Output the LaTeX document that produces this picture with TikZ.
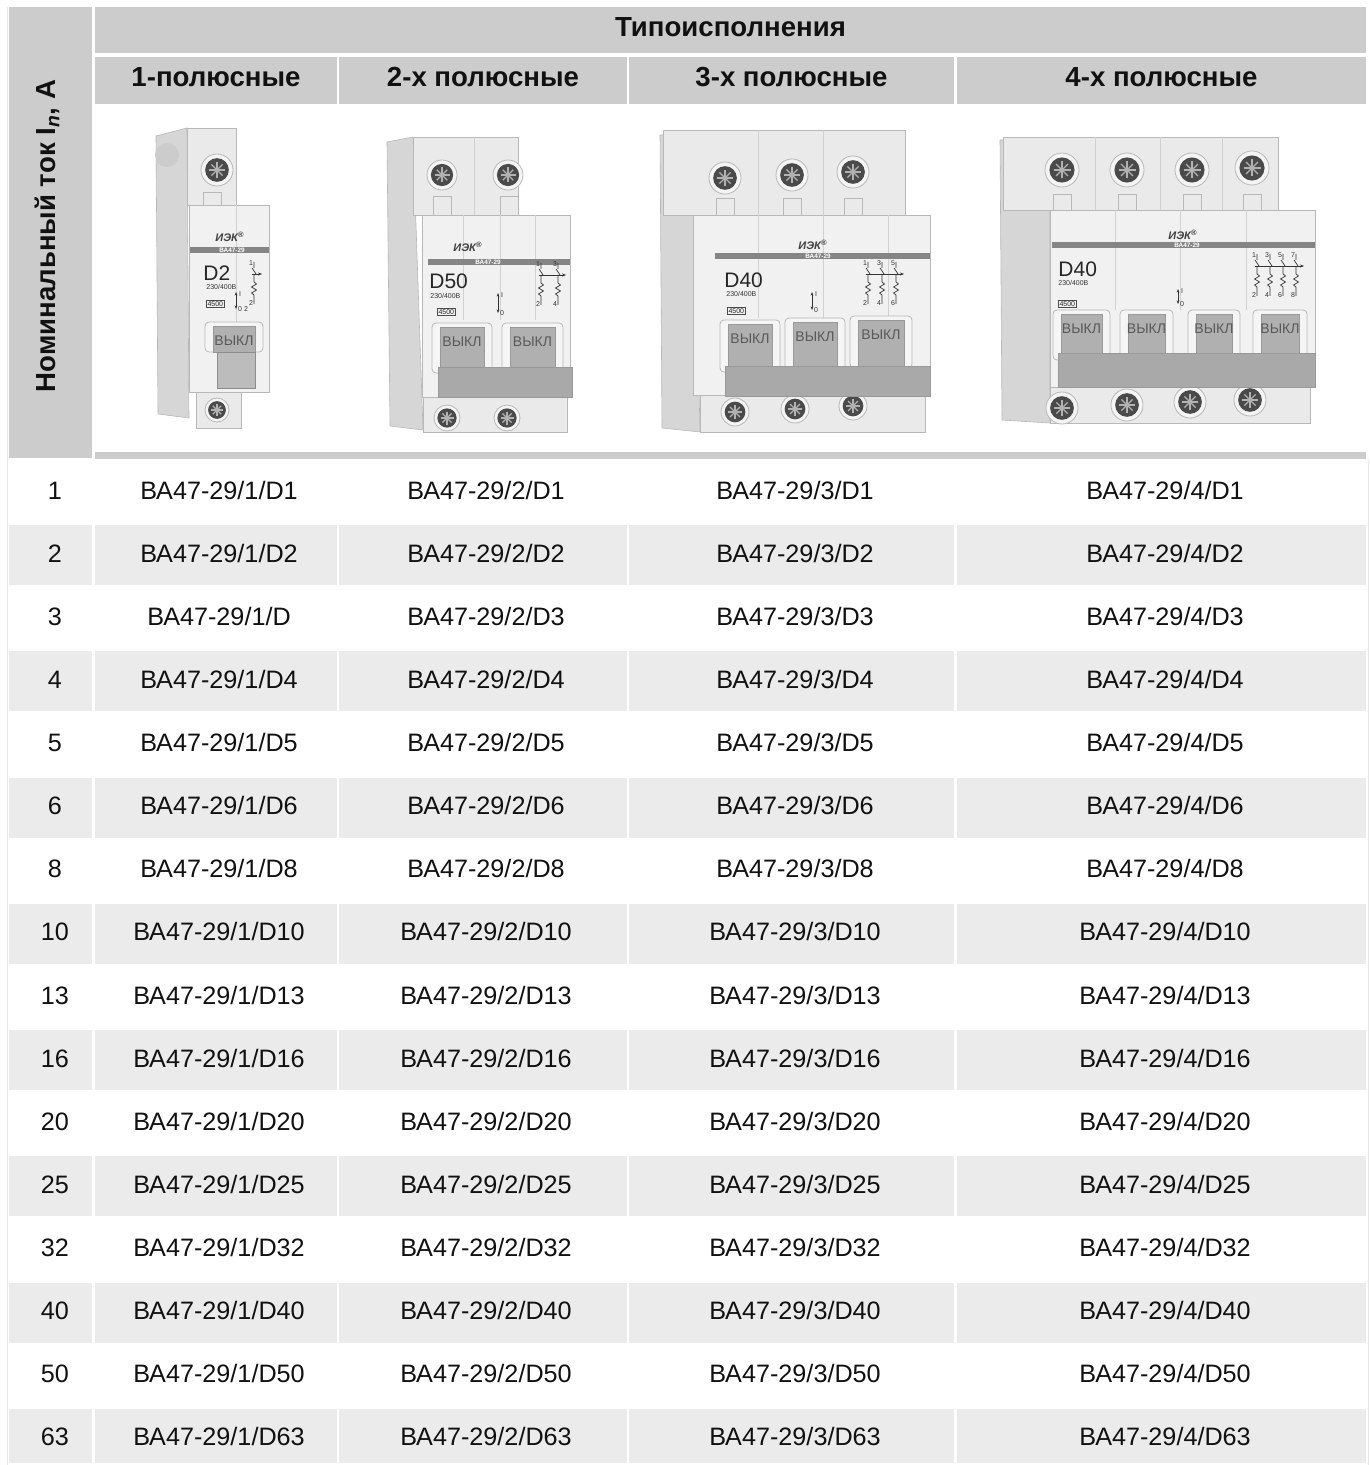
\documentclass[tikz,border=0pt]{standalone}
\usepackage{fontspec}
\setmainfont{Liberation Sans}
\usetikzlibrary{arrows.meta}
\definecolor{hdr}{HTML}{CCCCCC}
\definecolor{shd}{HTML}{EBEBEB}
\definecolor{txt}{HTML}{111111}
\definecolor{bfront}{HTML}{F1F1F1}
\definecolor{bupper}{HTML}{EAEAEA}
\definecolor{bside}{HTML}{D6D6D6}
\definecolor{bedge}{HTML}{B8B8B8}
\definecolor{bstripe}{HTML}{858585}
\definecolor{btog}{HTML}{B0B0B0}
\definecolor{bbar}{HTML}{A9A9A9}
\definecolor{scrd}{HTML}{4A4A4A}
\definecolor{scrring}{HTML}{F4F4F4}
\newcommand\fs[1]{\fontsize{#1}{#1}\selectfont}
\tikzset{
  cellt/.style={font=\fs{12.6}, text=txt, anchor=base, inner sep=0pt},
  hdrt/.style={font=\fs{13.8}\bfseries, text=txt, anchor=base, inner sep=0pt},
  frontbox/.style={fill=bfront, draw=bedge, line width=0.4pt},
  upperbox/.style={fill=bupper, draw=bedge, line width=0.4pt},
  sidebox/.style={fill=bside, draw=bedge, line width=0.3pt},
  seam/.style={draw=black!18, line width=0.4pt},
  logot/.style={font=\fs{5.5}\bfseries\itshape, text=black!75, inner sep=0pt},
  stript/.style={font=\fs{3.2}\bfseries, text=white, inner sep=0pt},
  ratet/.style={font=\fs{3.5}, text=black!80, inner sep=0pt, anchor=base west},
  dt/.style={font=\fs{10.5}, text=black!85, inner sep=0pt, anchor=base west},
  boxt/.style={font=\fs{3.5}, text=black!85, draw=black!70, line width=0.3pt, inner sep=0.6pt, anchor=west},
  tinyt/.style={font=\fs{3.5}, text=black!80, inner sep=0pt},
  barbox/.style={fill=bbar, draw=black!40, line width=0.4pt}
}
\newcommand\mcbscrew[3]{%
\begin{scope}[shift={(#1,#2)}]
\filldraw[fill=scrring, draw=bedge, line width=0.4pt] (0,0) circle[radius=#3*0.5pt];
\fill[scrd] (0,0) circle[radius=#3*0.37pt];
\draw[black!30, line width=0.9pt] (-#3*0.5,0) -- (#3*0.5,0) (0,-#3*0.5) -- (0,#3*0.5);
\draw[black!30, line width=0.6pt] (-#3*0.35,-#3*0.35) -- (#3*0.35,#3*0.35) (-#3*0.35,#3*0.35) -- (#3*0.35,-#3*0.35);
\end{scope}}
\newcommand\mcbtoggle[4]{%
\filldraw[fill=white!96!black, draw=bedge, line width=0.4pt, rounded corners=2pt] (#1,#2) rectangle (#3,#4);
\filldraw[fill=btog, draw=black!40, line width=0.3pt] ({#1+8},{#2+4}) rectangle ({#3-8},#4);
\node[font=\fs{7}, text=black!65, inner sep=0pt] at ({(#1+#3)/2},{#2+19}) {ВЫКЛ};}
\newcommand\mcbschem[4]{%
\foreach \k in {1,...,#3}{%
 \pgfmathsetmacro\sx{#1+(\k-1)*#4}
 \pgfmathtruncatemacro\ta{2*\k-1}
 \pgfmathtruncatemacro\tb{2*\k}
 \draw[black!80, line width=0.35pt] (\sx,#2) -- (\sx,{#2+6}) ({\sx-2},{#2+6}) -- ({\sx+2},{#2+12}) (\sx,{#2+13}) -- (\sx,{#2+20}) -- ({\sx+2.5},{#2+22}) -- ({\sx-2.5},{#2+25}) -- ({\sx+2.5},{#2+28}) -- ({\sx-2.5},{#2+31}) -- (\sx,{#2+33}) -- (\sx,{#2+42});
 \node[tinyt] at ({\sx-3},{#2+1}) {\ta};
 \node[tinyt] at ({\sx-3},{#2+41}) {\tb};
}
\draw[black!80, line width=0.3pt, -{Stealth[length=2pt]}] ({#1-2},{#2+12}) -- ({#1+(#3-1)*#4+8},{#2+12});}
\newcommand\mcbarrows[3]{% x ytop ybot
\draw[black!80, line width=0.35pt, {Stealth[length=1.8pt]}-{Stealth[length=1.8pt]}] (#1,#2) -- (#1,#3);
\node[tinyt] at ({#1+4},{#2+2}) {I};
\node[tinyt] at ({#1+4},{#3}) {0};}
\begin{document}
\begin{tikzpicture}[x=0.5pt,y=-0.5pt]
\useasboundingbox (0,0) rectangle (1369,1465);
\fill[white] (0,0) rectangle (1369,1465);
% faint outer edges
\draw[black!9, line width=0.5pt] (7,7) -- (7,1465);
\draw[black!9, line width=0.5pt] (1368,460) -- (1368,1465);
% header
\fill[hdr] (9,7) rectangle (92,458);
\fill[hdr] (95,7) rectangle (1366,53);
\fill[hdr] (95,57) rectangle (337,104);
\fill[hdr] (339,57) rectangle (627,104);
\fill[hdr] (629,57) rectangle (954,104);
\fill[hdr] (957,57) rectangle (1366,104);
\fill[hdr] (95,452) rectangle (1366,459);
\node[hdrt, rotate=90] (lbl) at (55,236) {Номинальный ток I\textsubscript{\itshape n}, A};
\node[hdrt] (top) at (730.5,37) {Типоисполнения};
\node[hdrt] (h1) at (216,87) {1-полюсные};
\node[hdrt] (h2) at (483,87) {2-х полюсные};
\node[hdrt] (h3) at (791.5,87) {3-х полюсные};
\node[hdrt] (h4) at (1161.5,87) {4-х полюсные};
% rows
\foreach \v [count=\n from 0] in {1,2,3,4,5,6,8,10,13,16,20,25,32,40,50,63}{
  \pgfmathsetmacro\tp{462+\n*63.13}
  \pgfmathsetmacro\bt{min(\tp+60,1463)}
  \ifodd\n
    \fill[shd] (9,\tp) rectangle (92,\bt);
    \fill[shd] (95,\tp) rectangle (337,\bt);
    \fill[shd] (339,\tp) rectangle (627,\bt);
    \fill[shd] (629,\tp) rectangle (954,\bt);
    \fill[shd] (957,\tp) rectangle (1366,\bt);
  \fi
  \node[cellt] (r\n-c0) at (55,\tp+37) {\v};
  \ifnum\v=3
    \node[cellt] (r\n-c1) at (219,\tp+37) {ВА47-29/1/D};
  \else
    \node[cellt] (r\n-c1) at (219,\tp+37) {ВА47-29/1/D\v};
  \fi
  \node[cellt] (r\n-c2) at (486,\tp+37) {ВА47-29/2/D\v};
  \node[cellt] (r\n-c3) at (795,\tp+37) {ВА47-29/3/D\v};
  \node[cellt] (r\n-c4) at (1165,\tp+37) {ВА47-29/4/D\v};
}
% ---------- 1-pole breaker ----------
\filldraw[sidebox] (156,136) -- (187,128) -- (189,418) -- (158,414) -- cycle;
\fill[black!20] (167,155) circle[radius=6pt];
\filldraw[upperbox] (187,128) rectangle (236,205);
\mcbscrew{217}{170}{16}
\filldraw[upperbox] (203,192) rectangle (221,205);
\filldraw[upperbox] (196,392) rectangle (241,428);
\mcbscrew{217}{410}{12}
\filldraw[frontbox] (189,205) rectangle (269,392);
\draw[seam] (236,205) -- (236,322);
\node[logot] at (230,237) {ИЭК\textsuperscript{®}};
\fill[bstripe] (190,247) rectangle (269,253);
\node[stript] at (232,250) {ВА47-29};
\node[dt] at (203,281) {D2};
\node[ratet] at (206,290) {230/400В};
\node[boxt] at (206,304) {4500};
\mcbarrows{236}{292}{309}
\node[tinyt] at (246,309) {2};
\mcbschem{254}{262}{1}{0}
\mcbtoggle{205}{322}{263}{352}
\filldraw[fill=btog!85, draw=black!45, line width=0.4pt] (217,352) rectangle (255,388);
% ---------- 2-pole breaker ----------
\filldraw[sidebox] (387,142) -- (413,137) -- (423,430) -- (390,426) -- cycle;
\filldraw[upperbox] (413,137) rectangle (518,215);
\draw[seam] (474,137) -- (474,215);
\mcbscrew{442}{175}{15}
\mcbscrew{508}{175}{15}
\filldraw[upperbox] (433,196) rectangle (451,215);
\filldraw[upperbox] (500,196) rectangle (518,215);
\filldraw[upperbox] (423,397) rectangle (567,432);
\mcbscrew{447}{418}{13}
\mcbscrew{507}{418}{13}
\filldraw[frontbox] (422,215) rectangle (570,397);
\draw[seam] (463,215) -- (463,320) (500,215) -- (500,320) (535,215) -- (535,320);
\node[logot] at (468,247) {ИЭК\textsuperscript{®}};
\fill[bstripe] (428,259) rectangle (570,265);
\node[stript] at (488,262) {ВА47-29};
\node[dt] at (429,289) {D50};
\node[ratet] at (430,299) {230/400В};
\node[boxt] at (437,312) {4500};
\mcbarrows{498}{293}{313}
\mcbschem{541}{263}{2}{17}
\mcbtoggle{432}{323}{492}{373}
\mcbtoggle{502}{323}{563}{373}
\filldraw[barbox] (438,367) rectangle (572,397);
% ---------- 3-pole breaker ----------
\filldraw[sidebox] (660,135) -- (693,135) -- (700,432) -- (662,428) -- cycle;
\filldraw[upperbox] (663,130) rectangle (905,215);
\draw[seam] (758,130) -- (758,215) (823,130) -- (823,215);
\mcbscrew{725}{178}{16}
\mcbscrew{792}{175}{16}
\mcbscrew{853}{172}{16}
\filldraw[upperbox] (716,198) rectangle (734,215);
\filldraw[upperbox] (783,198) rectangle (801,215);
\filldraw[upperbox] (844,198) rectangle (862,215);
\filldraw[upperbox] (700,395) rectangle (925,432);
\mcbscrew{735}{412}{14}
\mcbscrew{795}{409}{14}
\mcbscrew{853}{406}{14}
\filldraw[frontbox] (693,215) rectangle (930,395);
\draw[seam] (758,215) -- (758,318) (823,215) -- (823,318) (888,215) -- (888,318);
\node[logot] at (813,245) {ИЭК\textsuperscript{®}};
\fill[bstripe] (715,253) rectangle (930,259);
\node[stript] at (818,256) {ВА47-29};
\node[dt] at (724,288) {D40};
\node[ratet] at (726,297) {230/400В};
\node[boxt] at (727,311) {4500};
\mcbarrows{812}{292}{310}
\mcbschem{868}{262}{3}{14}
\mcbtoggle{720}{320}{780}{372}
\mcbtoggle{785}{318}{845}{370}
\mcbtoggle{850}{316}{912}{368}
\filldraw[barbox] (725,366) rectangle (930,396);
% ---------- 4-pole breaker ----------
\filldraw[sidebox] (1000,140) -- (1050,140) -- (1050,423) -- (1002,420) -- cycle;
\filldraw[upperbox] (1003,137) rectangle (1278,210);
\draw[seam] (1095,137) -- (1095,210) (1160,137) -- (1160,210) (1222,137) -- (1222,210);
\mcbscrew{1062}{170}{17}
\mcbscrew{1127}{170}{17}
\mcbscrew{1192}{170}{17}
\mcbscrew{1252}{168}{17}
\filldraw[upperbox] (1053,194) rectangle (1071,210);
\filldraw[upperbox] (1118,194) rectangle (1136,210);
\filldraw[upperbox] (1183,194) rectangle (1201,210);
\filldraw[upperbox] (1243,194) rectangle (1261,210);
\filldraw[upperbox] (1050,387) rectangle (1310,423);
\mcbscrew{1062}{408}{16}
\mcbscrew{1127}{405}{16}
\mcbscrew{1190}{402}{16}
\mcbscrew{1250}{400}{16}
\filldraw[frontbox] (1050,210) rectangle (1315,387);
\draw[seam] (1115,210) -- (1115,310) (1180,210) -- (1180,310) (1246,210) -- (1246,310);
\node[logot] at (1183,235) {ИЭК\textsuperscript{®}};
\fill[bstripe] (1052,242) rectangle (1315,248);
\node[stript] at (1187,245) {ВА47-29};
\node[dt] at (1058,277) {D40};
\node[ratet] at (1058,286) {230/400В};
\node[boxt] at (1058,304) {4500};
\mcbarrows{1178}{289}{304}
\mcbschem{1257}{254}{4}{13}
\mcbtoggle{1053}{310}{1110}{360}
\mcbtoggle{1120}{310}{1173}{360}
\mcbtoggle{1188}{310}{1240}{360}
\mcbtoggle{1253}{310}{1307}{360}
\filldraw[barbox] (1058,353) rectangle (1315,387);
\end{tikzpicture}
\end{document}
